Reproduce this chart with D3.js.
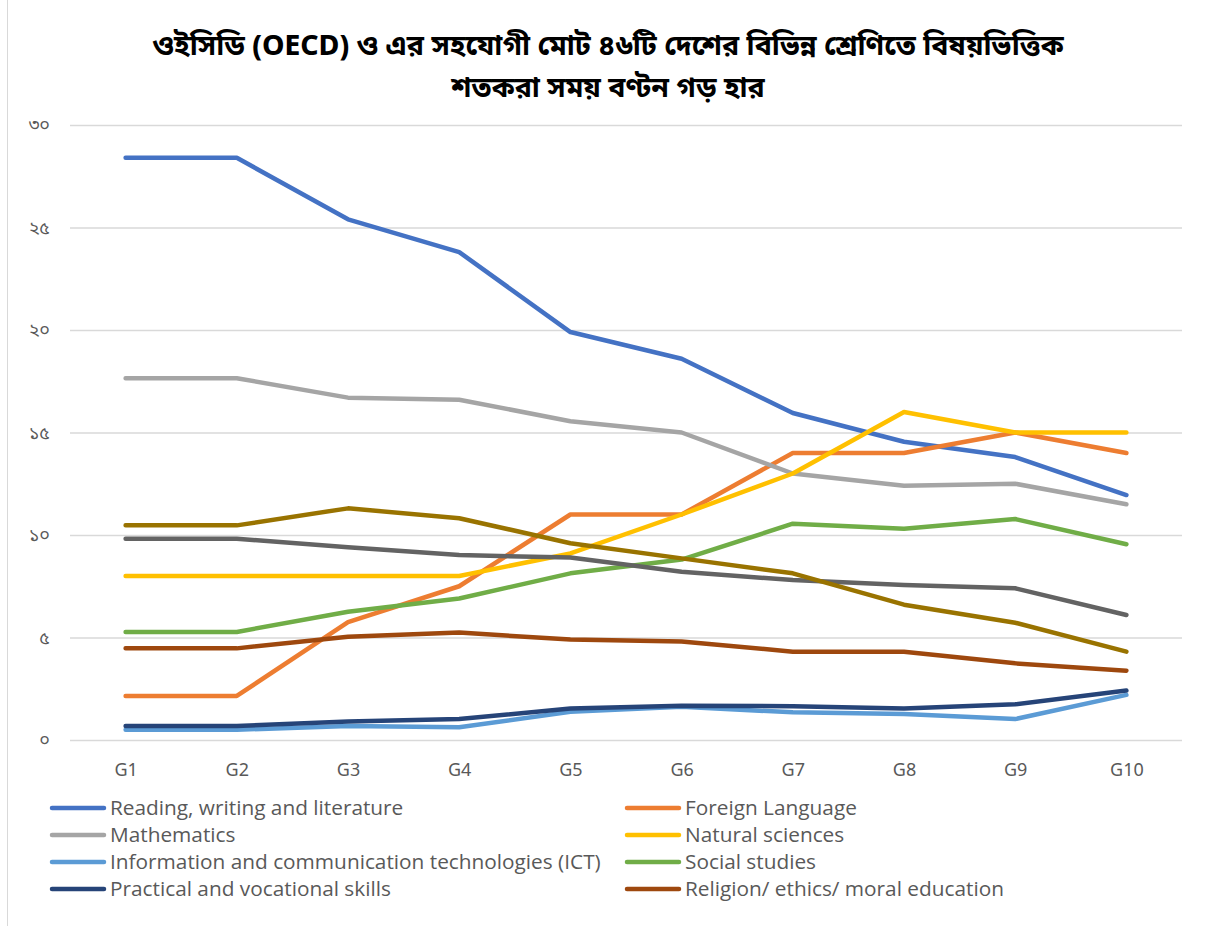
<!DOCTYPE html>
<html>
<head>
<meta charset="utf-8">
<script src="https://cdn.jsdelivr.net/npm/d3@7"></script>
<style>
  body { margin: 0; background: #fff; }
  svg { display: block; }
  .title { font-family: "Noto Sans Bengali", "Noto Sans", sans-serif; font-weight: bold; font-size: 28.5px; fill: #000; }
  .tick text { font-family: "Noto Sans Bengali", "Noto Sans", sans-serif; fill: #595959; }
  .legend text { font-family: "Liberation Sans Narrow", "Open Sans", sans-serif; font-size: 20.8px; fill: #595959; }
</style>
</head>
<body>
<svg id="chart" width="1210" height="926"></svg>
<script>
// ── Data ─────────────────────────────────────────────────────────────────────
const titleLines = [
  "ওইসিডি (OECD) ও এর সহযোগী মোট ৪৬টি দেশের বিভিন্ন শ্রেণিতে বিষয়ভিত্তিক",
  "শতকরা সময় বণ্টন গড় হার"
];
const grades = ["G1","G2","G3","G4","G5","G6","G7","G8","G9","G10"];
const yTicks = [0, 5, 10, 15, 20, 25, 30];
const bnDigits = "০১২৩৪৫৬৭৮৯";

const seriesNames = [
  "Reading, writing and literature",
  "Foreign Language",
  "Mathematics",
  "Natural sciences",
  "Information and communication technologies (ICT)",
  "Social studies",
  "Practical and vocational skills",
  "Religion/ ethics/ moral education",
  "Other (dark grey)",
  "Other (olive)"
];
const reading   = [28.4, 28.4, 25.4, 23.8, 19.9, 18.6, 15.95, 14.55, 13.8, 11.95];
const foreign   = [2.15, 2.15, 5.75, 7.5, 11.0, 11.0, 14.0, 14.0, 15.0, 14.0];
const maths     = [17.65, 17.65, 16.7, 16.6, 15.55, 15.0, 13.0, 12.4, 12.5, 11.5];
const natural   = [8.0, 8.0, 8.0, 8.0, 9.1, 11.0, 13.0, 16.0, 15.0, 15.0];
const ict       = [0.5, 0.5, 0.68, 0.62, 1.38, 1.62, 1.35, 1.27, 1.02, 2.2];
const social    = [5.27, 5.27, 6.26, 6.9, 8.13, 8.8, 10.55, 10.3, 10.78, 9.55];
const practical = [0.68, 0.68, 0.9, 1.02, 1.54, 1.67, 1.65, 1.54, 1.74, 2.41];
const religion  = [4.47, 4.47, 5.04, 5.24, 4.9, 4.8, 4.31, 4.31, 3.74, 3.38];
const darkGrey  = [9.82, 9.82, 9.4, 9.02, 8.9, 8.21, 7.8, 7.56, 7.4, 6.1];
const olive     = [10.47, 10.47, 11.3, 10.82, 9.6, 8.86, 8.13, 6.6, 5.72, 4.31];
const allValues = [reading, foreign, maths, natural, ict, social, practical, religion, darkGrey, olive];
const COLORS = ["#4472C4","#ED7D31","#A5A5A5","#FFC000","#5B9BD5","#70AD47","#264478","#9E480E","#636363","#997300"];
const legendCount = 8;

const toBn = n => String(n).replace(/\d/g, d => bnDigits[+d]);

// ── Chart ────────────────────────────────────────────────────────────────────
const svg = d3.select("#chart");
const margin = { top: 125, left: 70, right: 28, bottom: 186 };
const W = 1210, H = 926;
const w = W - margin.left - margin.right;
const h = H - margin.top - margin.bottom;

// outer chart border (left edge visible)
svg.append("line")
  .attr("x1", 7.5).attr("x2", 7.5).attr("y1", 0).attr("y2", H)
  .attr("stroke", "#d9d9d9").attr("stroke-width", 1);

svg.selectAll("text.title").data(titleLines).join("text")
  .attr("class", "title")
  .attr("x", W / 2 + 3)
  .attr("y", (d, i) => 55 + i * 42)
  .attr("text-anchor", "middle")
  .text(d => d);

const g = svg.append("g").attr("transform", `translate(${margin.left},${margin.top})`);
const x = d3.scalePoint().domain(grades).range([0, w]).padding(0.5);
const y = d3.scaleLinear().domain([0, 30]).range([h, 0]);

g.append("g").attr("class", "grid")
  .call(d3.axisLeft(y).tickValues(yTicks).tickSize(-w).tickFormat(""))
  .call(a => a.select(".domain").remove())
  .call(a => a.selectAll("line").attr("stroke", "#d9d9d9").attr("stroke-width", 1.3));

g.append("g")
  .call(d3.axisLeft(y).tickValues(yTicks).tickSize(0).tickPadding(20).tickFormat(toBn))
  .call(a => a.select(".domain").remove())
  .call(a => a.selectAll("text").attr("font-size", 18));

g.append("g").attr("transform", `translate(0,${h})`)
  .call(d3.axisBottom(x).tickSize(0).tickPadding(23))
  .call(a => a.select(".domain").remove())
  .call(a => a.selectAll("text").attr("font-size", 18).attr("font-family", "'Open Sans', sans-serif"));

const line = d3.line().x((v, i) => x(grades[i])).y(v => y(v));

allValues.forEach((vals, i) => {
  g.append("path").datum(vals)
    .attr("fill", "none")
    .attr("stroke", COLORS[i])
    .attr("stroke-width", 4.5)
    .attr("stroke-linejoin", "round")
    .attr("stroke-linecap", "round")
    .attr("d", line);
});

// ── Legend ───────────────────────────────────────────────────────────────────
const legend = svg.append("g").attr("class", "legend");
const colX = [50, 625], rowY0 = 808, rowH = 27;
seriesNames.slice(0, legendCount).forEach((name, i) => {
  const cx = colX[i % 2], cy = rowY0 + Math.floor(i / 2) * rowH;
  const item = legend.append("g").attr("transform", `translate(${cx},${cy})`);
  item.append("line")
    .attr("x1", 2).attr("x2", 54).attr("y1", 0).attr("y2", 0)
    .attr("stroke", COLORS[i]).attr("stroke-width", 4.5).attr("stroke-linecap", "round");
  item.append("text")
    .attr("x", 60).attr("y", 0).attr("dy", "0.35em")
    .text(name);
});
</script>
</body>
</html>
